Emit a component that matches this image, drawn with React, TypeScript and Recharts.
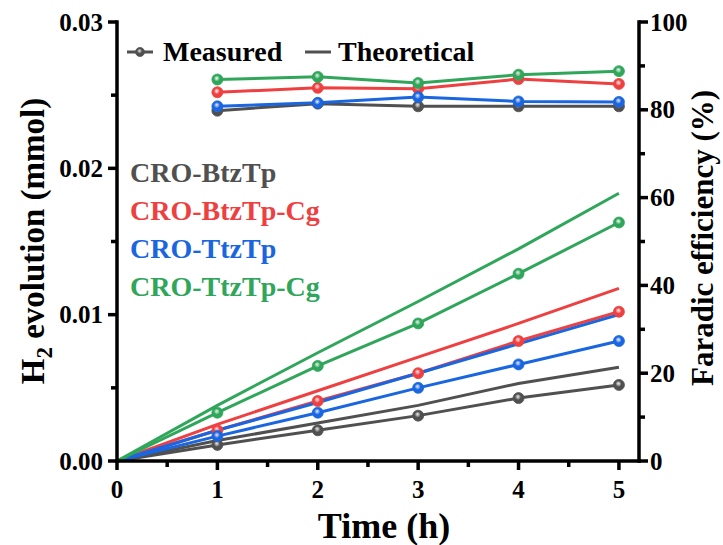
import React from 'react';
import { ComposedChart, Line, XAxis, YAxis } from 'recharts';

// time points (h)
const hours = [0, 1, 2, 3, 4, 5];

// H2 evolution (mmol), measured and theoretical
const btzMeasured = [0, 0.0011, 0.0021, 0.0031, 0.0043, 0.0052];
const btzTheory = [0, 0.0014, 0.0026, 0.0038, 0.0053, 0.0064];
const btzCgMeasured = [0, 0.0021, 0.0041, 0.006, 0.0082, 0.0102];
const btzCgTheory = [0, 0.0025, 0.0048, 0.0071, 0.0094, 0.0118];
const ttzMeasured = [0, 0.0017, 0.0033, 0.005, 0.0066, 0.0082];
const ttzTheory = [0, 0.0021, 0.004, 0.006, 0.008, 0.01];
const ttzCgMeasured = [0, 0.0033, 0.0065, 0.0094, 0.0128, 0.0163];
const ttzCgTheory = [0, 0.0038, 0.0074, 0.0109, 0.0145, 0.0183];

// Faradic efficiency (%)
const btzFE = [null, 79.8, 81.4, 80.8, 80.8, 80.8];
const btzCgFE = [null, 84.0, 85.0, 84.8, 87.0, 85.9];
const ttzFE = [null, 80.8, 81.6, 82.9, 81.9, 81.8];
const ttzCgFE = [null, 86.9, 87.5, 86.1, 88.0, 88.8];

const sampleNames = ['CRO-BtzTp', 'CRO-BtzTp-Cg', 'CRO-TtzTp', 'CRO-TtzTp-Cg'];
const legendNames = ['Measured', 'Theoretical'];

const xTicks = [0, 0.5, 1, 1.5, 2, 2.5, 3, 3.5, 4, 4.5, 5];
const h2Ticks = [0, 0.005, 0.01, 0.015, 0.02, 0.025, 0.03];
const feTicks = [0, 10, 20, 30, 40, 50, 60, 70, 80, 90, 100];

const COLORS = ['#505050', '#ee4040', '#1a66e0', '#2fa65a'];
const FONT = '"Liberation Serif", "Times New Roman", serif';

const data = hours.map((h, i) => ({
  h,
  btzM: btzMeasured[i],
  btzT: btzTheory[i],
  btzCgM: btzCgMeasured[i],
  btzCgT: btzCgTheory[i],
  ttzM: ttzMeasured[i],
  ttzT: ttzTheory[i],
  ttzCgM: ttzCgMeasured[i],
  ttzCgT: ttzCgTheory[i],
  btzFE: btzFE[i],
  btzCgFE: btzCgFE[i],
  ttzFE: ttzFE[i],
  ttzCgFE: ttzCgFE[i],
}));

const series = [
  { m: 'btzM', t: 'btzT', fe: 'btzFE' },
  { m: 'btzCgM', t: 'btzCgT', fe: 'btzCgFE' },
  { m: 'ttzM', t: 'ttzT', fe: 'ttzFE' },
  { m: 'ttzCgM', t: 'ttzCgT', fe: 'ttzCgFE' },
];

const ball = (i: number) => (p: any) => {
  const { cx, cy, payload, value, index, dataKey } = p;
  const k = `${dataKey}-${index}`;
  if (value == null || payload.h === 0 || cx == null) return <g key={k} />;
  return (
    <circle key={k} cx={cx} cy={cy} r={5.5} fill={`url(#ball${i})`} stroke={COLORS[i]} strokeWidth={0.8} />
  );
};

const XTick = (p: any) => {
  const { x, y, payload } = p;
  const major = Number.isInteger(payload.value);
  return (
    <g>
      <line x1={x} x2={x} y1={y} y2={y + (major ? 9 : 6)} stroke="#000" strokeWidth={3.5} />
      {major && (
        <text x={x} y={y + 37} textAnchor="middle" fontFamily={FONT} fontWeight="bold" fontSize={25} fill="#000">
          {payload.value}
        </text>
      )}
    </g>
  );
};

const H2Tick = (p: any) => {
  const { x, y, payload } = p;
  const major = Math.round(payload.value * 1000) % 10 === 0;
  return (
    <g>
      <line x1={x - (major ? 9 : 6)} x2={x} y1={y} y2={y} stroke="#000" strokeWidth={3.5} />
      {major && (
        <text x={x - 14} y={y + 8.5} textAnchor="end" fontFamily={FONT} fontWeight="bold" fontSize={25} fill="#000">
          {payload.value.toFixed(2)}
        </text>
      )}
    </g>
  );
};

const FETick = (p: any) => {
  const { x, y, payload } = p;
  const major = payload.value % 20 === 0;
  return (
    <g>
      <line x1={x} x2={x + (major ? 9 : 6)} y1={y} y2={y} stroke="#000" strokeWidth={3.5} />
      {major && (
        <text x={x + 11} y={y + 8.5} textAnchor="start" fontFamily={FONT} fontWeight="bold" fontSize={25} fill="#000">
          {payload.value}
        </text>
      )}
    </g>
  );
};

const axisLine = { stroke: '#000', strokeWidth: 3.5, strokeLinecap: 'square' as const };

export default function App() {
  return (
    <div style={{ position: 'absolute', left: 0, top: 0, width: 723, height: 545, background: '#fff' }}>
      <ComposedChart width={723} height={545} data={data} margin={{ top: 22, right: 0, bottom: 0, left: 0 }}>
        <defs>
          {COLORS.map((c, i) => (
            <radialGradient key={c} id={`ball${i}`} cx="45%" cy="40%" r="60%">
              <stop offset="0%" stopColor="#ffffff" stopOpacity={0.75} />
              <stop offset="45%" stopColor={c} />
              <stop offset="100%" stopColor={c} />
            </radialGradient>
          ))}
        </defs>
        <XAxis
          dataKey="h"
          type="number"
          domain={[0, 5.2]}
          ticks={xTicks}
          interval={0}
          height={84}
          tickSize={0}
          tickMargin={0}
          tickLine={false}
          axisLine={axisLine}
          tick={<XTick />}
        />
        <XAxis xAxisId="top" orientation="top" type="number" domain={[0, 5.2]} height={0} tick={false} tickLine={false} axisLine={axisLine} />
        <YAxis
          yAxisId="h2"
          type="number"
          domain={[0, 0.03]}
          ticks={h2Ticks}
          interval={0}
          width={117}
          tickSize={0}
          tickMargin={0}
          tickLine={false}
          axisLine={axisLine}
          tick={<H2Tick />}
        />
        <YAxis
          yAxisId="fe"
          orientation="right"
          type="number"
          domain={[0, 100]}
          ticks={feTicks}
          interval={0}
          width={84}
          tickSize={0}
          tickMargin={0}
          tickLine={false}
          axisLine={axisLine}
          tick={<FETick />}
        />
        {series.map((s, i) => [
          <Line key={s.t} yAxisId="h2" type="linear" dataKey={s.t} stroke={COLORS[i]} strokeWidth={3} dot={false} isAnimationActive={false} />,
          <Line key={s.m} yAxisId="h2" type="linear" dataKey={s.m} stroke={COLORS[i]} strokeWidth={3} dot={ball(i)} isAnimationActive={false} />,
        ])}
        {series.map((s, i) => (
          <Line key={s.fe} yAxisId="fe" type="linear" dataKey={s.fe} stroke={COLORS[i]} strokeWidth={3} dot={ball(i)} isAnimationActive={false} />
        ))}
      </ComposedChart>

      <svg width={723} height={545} style={{ position: 'absolute', left: 0, top: 0, pointerEvents: 'none' }}>
        <defs>
          <radialGradient id="legendBall" cx="45%" cy="40%" r="60%">
            <stop offset="0%" stopColor="#ffffff" stopOpacity={0.75} />
            <stop offset="45%" stopColor={COLORS[0]} />
            <stop offset="100%" stopColor={COLORS[0]} />
          </radialGradient>
        </defs>
        {/* legend */}
        <line x1={127} x2={153} y1={52} y2={52} stroke={COLORS[0]} strokeWidth={3} />
        <circle cx={140} cy={52} r={4.5} fill="url(#legendBall)" stroke={COLORS[0]} strokeWidth={0.8} />
        <text x={163} y={61} fontFamily={FONT} fontWeight="bold" fontSize={28} fill="#000">{legendNames[0]}</text>
        <line x1={305} x2={331} y1={52} y2={52} stroke={COLORS[0]} strokeWidth={3} />
        <text x={338} y={61} fontFamily={FONT} fontWeight="bold" fontSize={28} fill="#000">{legendNames[1]}</text>

        {/* sample names */}
        {sampleNames.map((n, i) => (
          <text key={n} x={130} y={182 + i * 38} fontFamily={FONT} fontWeight="bold" fontSize={28} fill={COLORS[i]}>
            {n}
          </text>
        ))}

        {/* axis titles */}
        <text x={384} y={538} textAnchor="middle" fontFamily={FONT} fontWeight="bold" fontSize={36} fill="#000">
          Time (h)
        </text>
        <text
          transform="translate(44, 241) rotate(-90)"
          textAnchor="middle"
          fontFamily={FONT}
          fontWeight="bold"
          fontSize={33}
          fill="#000"
        >
          H<tspan fontSize={23} dy={8}>2</tspan>
          <tspan dy={-8}> evolution (mmol)</tspan>
        </text>
        <text
          transform="translate(713, 238) rotate(-90)"
          textAnchor="middle"
          fontFamily={FONT}
          fontWeight="bold"
          fontSize={31}
          fill="#000"
        >
          Faradic efficiency (%)
        </text>
      </svg>
    </div>
  );
}
